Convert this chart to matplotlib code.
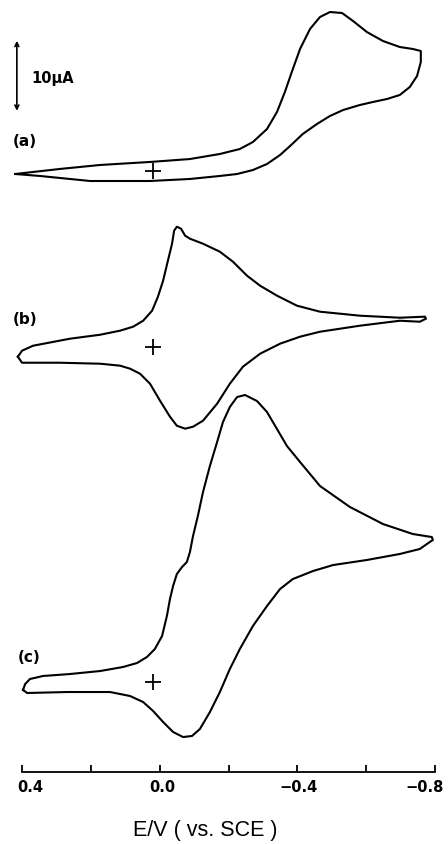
import numpy as np
import matplotlib
matplotlib.use('Agg')
import matplotlib.pyplot as plt
from matplotlib.transforms import ScaledTranslation

''' ---- data read off the voltammograms (E in V vs SCE, i in uA, + mark = 0) ---- '''
# (a) upper branch out to the switch, then back along the lower branch
E_a = [0.420, 0.290, 0.173, 0.028, -0.088, -0.175, -0.233, -0.271, -0.312, -0.341,
       -0.364, -0.384, -0.408, -0.437, -0.466, -0.495, -0.530, -0.562, -0.602, -0.649,
       -0.698, -0.736, -0.759, -0.759, -0.748, -0.727, -0.698, -0.661, -0.620, -0.582,
       -0.533, -0.495, -0.457, -0.416, -0.379, -0.350, -0.312, -0.271, -0.225, -0.175,
       -0.088, 0.028, 0.202, 0.348, 0.420]
i_a = [-0.43, 0.29, 0.86, 1.29, 1.71, 2.43, 3.14, 4.14, 6.00, 8.43,
       11.29, 14.14, 17.43, 20.29, 22.00, 22.71, 22.57, 21.43, 19.86, 18.57,
       17.71, 17.43, 17.14, 15.57, 13.57, 12.00, 10.86, 10.29, 9.86, 9.43,
       8.71, 7.86, 6.71, 5.29, 3.57, 2.29, 1.00, 0.14, -0.43, -0.71,
       -1.14, -1.43, -1.43, -0.71, -0.43]

# (b)
E_b = [0.412, 0.400, 0.368, 0.261, 0.173, 0.115, 0.077, 0.048, 0.022, 0.005,
       -0.010, -0.024, -0.036, -0.042, -0.050, -0.062, -0.074, -0.088, -0.126, -0.175,
       -0.213, -0.254, -0.292, -0.341, -0.399, -0.466, -0.582, -0.698, -0.771, -0.774,
       -0.756, -0.698, -0.582, -0.466, -0.408, -0.350, -0.292, -0.242, -0.204, -0.167,
       -0.126, -0.097, -0.074, -0.050, -0.030, -0.001, 0.028, 0.057, 0.086, 0.115,
       0.173, 0.290, 0.377, 0.400, 0.412]
i_b = [-1.43, -0.57, 0.14, 1.14, 1.71, 2.29, 2.86, 3.71, 5.14, 7.14,
       9.43, 12.29, 14.71, 16.57, 17.14, 16.86, 15.86, 15.43, 14.71, 13.57,
       12.14, 10.14, 8.71, 7.29, 5.86, 5.00, 4.43, 4.14, 4.29, 4.00,
       3.57, 3.71, 3.00, 2.14, 1.43, 0.43, -1.00, -2.86, -5.29, -8.14,
       -10.57, -11.43, -11.71, -11.29, -10.00, -7.71, -5.29, -3.86, -3.14, -2.71,
       -2.43, -2.29, -2.29, -2.29, -1.43]

# (c)
E_c = [0.397, 0.391, 0.377, 0.339, 0.261, 0.173, 0.107, 0.066, 0.037, 0.014,
       -0.007, -0.021, -0.030, -0.039, -0.050, -0.065, -0.079, -0.088, -0.097, -0.111,
       -0.126, -0.146, -0.167, -0.184, -0.204, -0.225, -0.248, -0.283, -0.312, -0.341,
       -0.370, -0.408, -0.466, -0.553, -0.649, -0.736, -0.791, -0.794, -0.785, -0.756,
       -0.698, -0.602, -0.504, -0.446, -0.387, -0.350, -0.312, -0.271, -0.233, -0.204,
       -0.175, -0.146, -0.117, -0.094, -0.068, -0.039, -0.010, 0.019, 0.048, 0.086,
       0.144, 0.269, 0.385, 0.397]
i_c = [-1.14, -0.29, 0.43, 0.86, 1.14, 1.57, 2.14, 2.71, 3.57, 4.71,
       6.57, 9.43, 11.86, 13.71, 15.43, 16.43, 17.14, 18.57, 20.86, 23.71,
       27.14, 30.86, 34.29, 37.14, 39.29, 40.71, 41.00, 40.14, 38.57, 36.14,
       33.71, 31.43, 28.00, 25.00, 22.57, 21.14, 20.71, 20.29, 20.00, 19.00,
       18.29, 17.43, 16.71, 15.86, 14.71, 13.29, 10.86, 8.00, 4.71, 1.86,
       -1.43, -4.29, -6.71, -7.71, -7.86, -7.14, -5.71, -4.14, -2.86, -2.00,
       -1.43, -1.43, -1.57, -1.14]

labels = ['(a)', '(b)', '(c)']
zero_E = 0.02          # potential of the "+" zero-current mark
scale_uA = 10

tick_vals = [0.4, 0.0, -0.4, -0.8]
tick_text = ['0.4', '0.0', '\u22120.4', '\u22120.8']
minor_vals = [0.2, -0.2, -0.6]

# vertical stacking of the three traces (uA) and label spots
offsets = [0.0, -25.1, -73.0]
label_pos = [(0.426, 4.4), (0.426, -21.1), (0.412, -69.3)]
tick_shift = [8, 3, 1, -10]   # px nudges of the tick labels

fig = plt.figure(figsize=(4.48, 8.45), dpi=100)
ax = fig.add_axes([0, 0, 1, 1])
ax.set_xlim(0.464, -0.838)
ax.set_ylim(-96.14, 24.57)
ax.axis('off')

for E, i, off, lab, (lx, ly) in zip([E_a, E_b, E_c], [i_a, i_b, i_c], offsets, labels, label_pos):
    ax.plot(E, np.array(i) + off, color='black', lw=1.5, solid_joinstyle='round')
    ax.plot(zero_E, off, marker='+', color='black', ms=11, mew=1.3)
    ax.text(lx, ly, lab, fontsize=11, fontweight='bold', family='DejaVu Sans',
            ha='left', va='center')

# 10 uA scale bar
ax.annotate('', xy=(0.415, 18.6), xytext=(0.415, 18.6 - scale_uA),
            arrowprops=dict(arrowstyle='<->', lw=1.2, color='black',
                            mutation_scale=7, shrinkA=0, shrinkB=0))
ax.text(0.374, 13.4, '10\u03bcA', fontsize=10.5, fontweight='bold',
        family='DejaVu Sans', ha='left', va='center')

# bottom potential axis
axb = fig.add_axes([22 / 448, 72 / 845, 413 / 448, 0.0001])
axb.set_facecolor('none')
axb.set_xlim(0.4, -0.8)
axb.set_yticks([])
for s in ['left', 'right', 'top']:
    axb.spines[s].set_visible(False)
axb.spines['bottom'].set_linewidth(1.3)
axb.set_xticks(tick_vals)
axb.set_xticklabels(tick_text, fontsize=10.5, fontweight='bold', family='DejaVu Sans')
axb.set_xticks(minor_vals, minor=True)
axb.tick_params(axis='x', which='both', direction='in', length=5, width=1.3, pad=5)
for lab, dx in zip(axb.get_xticklabels(), tick_shift):
    lab.set_transform(lab.get_transform() + ScaledTranslation(dx / 100, 0, fig.dpi_scale_trans))
axb.set_xlabel('E/V ( vs. SCE )', fontsize=15.5, family='Liberation Sans', labelpad=18)
axb.xaxis.label.set_x((205 - 22) / 413)

fig.savefig('out.png', dpi=100)
